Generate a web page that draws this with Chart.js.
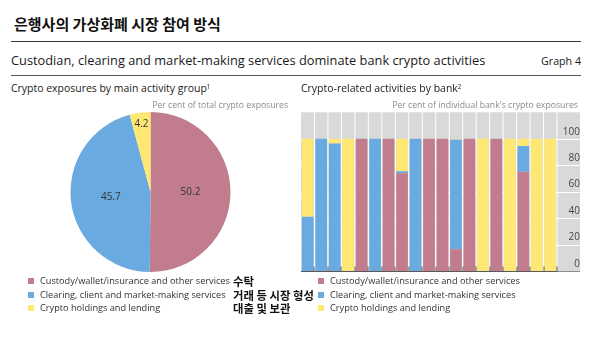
<!DOCTYPE html>
<html><head><meta charset="utf-8">
<script src="https://cdn.jsdelivr.net/npm/chart.js@4.4.1/dist/chart.umd.min.js"></script>
<style>
html,body{margin:0;padding:0;background:#fff;}
#root{position:relative;width:600px;height:341px;overflow:hidden;font-family:"Open Sans",sans-serif;color:#222;}
.t{position:absolute;white-space:nowrap;line-height:1;}
.ko{font-family:"Noto Sans CJK KR",sans-serif;font-weight:bold;color:#111;}
.hr{position:absolute;height:0;}
.sq{position:absolute;width:6px;height:6px;}
canvas{position:absolute;}
sup{font-size:0.6em;vertical-align:0;position:relative;top:-0.5em;}
</style></head><body>
<div id="root">
  <div class="hr" style="left:11px;top:41px;width:570px;border-top:1.5px solid #333;"></div>
  <div class="hr" style="left:11px;top:75px;width:570px;border-top:1px solid #555;"></div>
  <canvas id="pie" width="161" height="160" style="left:70px;top:112px;"></canvas>
  <canvas id="bar" width="295" height="180" style="left:290px;top:100px;"></canvas>
</div>
<script>
// ---- data ----
const seriesNames = ['Custody/wallet/insurance and other services', 'Clearing, client and market-making services', 'Crypto holdings and lending'];
const koreanNotes = ['수탁', '거래 등 시장 형성', '대출 및 보관'];
const pieValues = [50.2, 45.7, 4.2];
const banks = ['1','2','3','4','5','6','7','8','9','10','11','12','13','14','15','16','17','18','19'];
const custody  = [0, 0, 0, 0, 100, 0, 100, 74, 0, 100, 100, 16.5, 100, 0, 100, 0, 75, 0, 0];
const clearing = [41, 100, 96.5, 0, 0, 100, 0, 1.5, 100, 0, 0, 83, 0, 0, 0, 0, 19.5, 0, 0];
const holdings = [59, 0, 3.5, 100, 0, 0, 0, 24.5, 0, 0, 0, 0.5, 0, 100, 0, 100, 5.5, 100, 100];
const yTicks = [0, 20, 40, 60, 80, 100];
const colors = ['#c17d8d', '#69abe0', '#fee873'];

// ---- text helpers ----
const root = document.getElementById('root');
const mctx = document.createElement('canvas').getContext('2d');
function fitSize(text, family, weight, width) {
  mctx.font = weight + ' 20px ' + family;
  return 20 * width / mctx.measureText(text).width;
}
function addText(html, opts) {
  const d = document.createElement('div');
  d.className = 't' + (opts.cls ? ' ' + opts.cls : '');
  d.innerHTML = html;
  d.style.fontSize = opts.size + 'px';
  if (opts.color) d.style.color = opts.color;
  const k = opts.cls === 'ko' ? 0.5 : 0.57;
  d.style.top = (opts.cy - k * opts.size) + 'px';
  if (opts.right !== undefined) d.style.right = (600 - opts.right) + 'px';
  else d.style.left = opts.x + 'px';
  root.appendChild(d);
  return d;
}
const OS = '"Open Sans"', KO = '"Noto Sans CJK KR"';
addText('은행사의 가상화폐 시장 참여 방식', {cls:'ko', x:14, cy:24, size: fitSize('은행사의 가상화폐 시장 참여 방식', KO, 'bold', 207)});
const sub = 'Custodian, clearing and market-making services dominate bank crypto activities';
addText(sub, {x:11, cy:61, size: fitSize(sub, OS, 'normal', 475), color:'#1a1a1a'});
addText('Graph 4', {right:581, cy:62, size: fitSize('Graph 4', OS, 'normal', 40), color:'#1a1a1a'});
const lt = 'Crypto exposures by main activity group';
addText(lt + '<sup>1</sup>', {x:11, cy:89, size: fitSize(lt, OS, 'normal', 196), color:'#1a1a1a'});
const rt = 'Crypto-related activities by bank';
addText(rt + '<sup>2</sup>', {x:301, cy:89, size: fitSize(rt, OS, 'normal', 157), color:'#1a1a1a'});
const pl = 'Per cent of total crypto exposures';
addText(pl, {right:288, cy:106, size: fitSize(pl, OS, 'normal', 136), color:'#8a8a8a'});
const pr = "Per cent of individual bank's crypto exposures";
addText(pr, {right:578, cy:106, size: fitSize(pr, OS, 'normal', 186), color:'#8a8a8a'});

const legSize = fitSize(seriesNames[0], OS, 'normal', 190);
const rowsY = [281.3, 295.3, 308.3];
const koSize = fitSize(koreanNotes[1], KO, 'bold', 81);
seriesNames.forEach((n, i) => {
  [28, 318].forEach((sx, j) => {
    const s = document.createElement('div');
    s.className = 'sq';
    s.style.left = sx + 'px';
    s.style.top = (rowsY[i] - 3) + 'px';
    s.style.background = colors[i];
    root.appendChild(s);
    addText(n, {x: sx + 12, cy: rowsY[i], size: legSize, color:'#333'});
  });
  addText(koreanNotes[i], {cls:'ko', x:233, cy: rowsY[i], size: koSize});
});

// ---- charts ----
Chart.defaults.font.family = "'Open Sans', sans-serif";
Chart.defaults.animation = false;

const pieLabelPlugin = {
  id: 'pieLabels',
  afterDatasetsDraw(chart) {
    const {ctx} = chart;
    const meta = chart.getDatasetMeta(0);
    ctx.save();
    ctx.font = '10px "Open Sans"';
    ctx.fillStyle = '#333';
    ctx.textAlign = 'center';
    ctx.textBaseline = 'middle';
    meta.data.forEach((arc, i) => {
      const p = arc.getProps(['x','y','startAngle','endAngle','outerRadius'], true);
      const mid = (p.startAngle + p.endAngle) / 2;
      const f = pieValues[i] < 10 ? 0.86 : 0.5;
      ctx.fillText(pieValues[i].toFixed(1), p.x + Math.cos(mid) * p.outerRadius * f, p.y + Math.sin(mid) * p.outerRadius * f);
    });
    ctx.restore();
  }
};

new Chart(document.getElementById('pie'), {
  type: 'pie',
  data: { labels: seriesNames, datasets: [{ data: pieValues, backgroundColor: colors, borderWidth: 0, hoverOffset: 0, offset: 0 }] },
  options: {
    responsive: false, events: [],
    layout: { padding: 0 },
    plugins: { legend: { display: false }, tooltip: { enabled: false } }
  },
  plugins: [pieLabelPlugin]
});

const barBgPlugin = {
  id: 'barBg',
  beforeDraw(chart) {
    const {ctx, chartArea: a, scales: {x, y}} = chart;
    const right = y.right;
    ctx.save();
    ctx.fillStyle = '#d9d9d9';
    ctx.fillRect(a.left, a.top, right - a.left, a.bottom - a.top);
    ctx.strokeStyle = '#ffffff';
    ctx.lineWidth = 1;
    ctx.beginPath();
    yTicks.forEach(v => {
      if (v === 0) return;
      const py = Math.round(y.getPixelForValue(v)) + 0.5;
      ctx.moveTo(a.left, py); ctx.lineTo(right, py);
    });
    const w = x.getPixelForValue(1) - x.getPixelForValue(0);
    for (let i = 0; i < banks.length; i++) {
      const px = x.getPixelForValue(i) + w / 2;
      ctx.moveTo(px, a.top); ctx.lineTo(px, a.bottom);
    }
    ctx.stroke();
    ctx.restore();
  },
  afterDatasetsDraw(chart) {
    const {ctx, chartArea: a, scales: {x, y}} = chart;
    const by = Math.round(a.bottom) + 0.5;
    ctx.save();
    ctx.lineWidth = 1;
    ctx.strokeStyle = '#8c8c8c';
    ctx.beginPath(); ctx.moveTo(a.right, by); ctx.lineTo(y.right, by); ctx.stroke();
    ctx.strokeStyle = '#5a5a5a';
    ctx.beginPath(); ctx.moveTo(a.left, by); ctx.lineTo(a.right, by);
    const w = x.getPixelForValue(1) - x.getPixelForValue(0);
    for (let i = 0; i < banks.length; i++) {
      const px = Math.round(x.getPixelForValue(i) + w / 2) ;
      ctx.moveTo(px, by - 5); ctx.lineTo(px, by);
    }
    ctx.stroke();
    ctx.restore();
  }
};

new Chart(document.getElementById('bar'), {
  type: 'bar',
  data: {
    labels: banks,
    datasets: [
      { label: seriesNames[0], data: custody, backgroundColor: colors[0] },
      { label: seriesNames[1], data: clearing, backgroundColor: colors[1] },
      { label: seriesNames[2], data: holdings, backgroundColor: colors[2] }
    ]
  },
  options: {
    responsive: false, events: [],
    layout: { padding: { left: 11, right: 5, top: 12.3, bottom: 8.3 } },
    datasets: { bar: { barPercentage: 0.87, categoryPercentage: 1, borderWidth: 0 } },
    plugins: { legend: { display: false }, tooltip: { enabled: false } },
    scales: {
      x: { stacked: true, display: false },
      y: {
        stacked: true, position: 'right', min: 0, max: 120,
        afterFit(s) { s.width = 23; },
        grid: { display: false, drawTicks: false },
        border: { display: false },
        ticks: {
          stepSize: 20, padding: 3, crossAlign: 'far', labelOffset: -7,
          color: '#444', font: { size: 10 },
          callback: v => yTicks.includes(v) ? String(v) : ''
        }
      }
    }
  },
  plugins: [barBgPlugin]
});
</script>
</body></html>
